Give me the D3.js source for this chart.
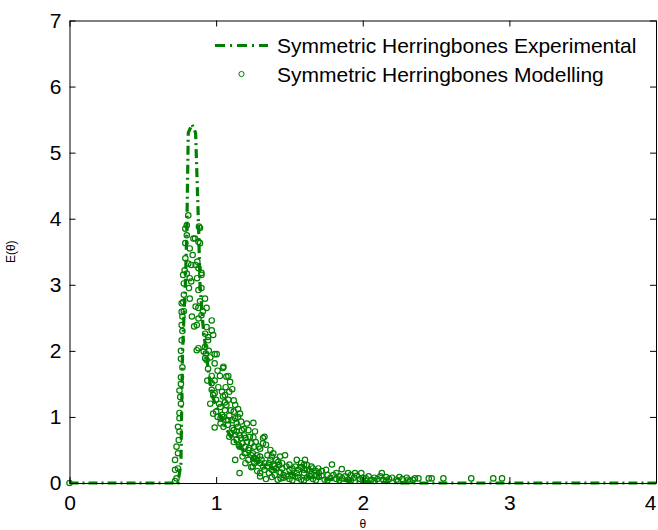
<!DOCTYPE html>
<html>
<head>
<meta charset="utf-8">
<script src="https://cdn.jsdelivr.net/npm/d3@7"></script>
<style>
  body { margin: 0; background: #fff; }
  svg { font-family: "Liberation Sans", Arial, sans-serif; }
</style>
</head>
<body>
<svg></svg>
<script>
var width = 658;
var height = 530;

// experimental curve (theta, E)
var expTheta = [0, 0.74, 0.76, 0.77, 0.78, 0.79, 0.80, 0.81, 0.835, 0.86, 0.87, 0.88, 0.89, 0.91, 0.93, 0.95, 0.97, 1.00, 1.05, 1.10, 1.20, 1.30, 1.40, 1.55, 1.75, 2.00, 2.30, 4.00];
var expE     = [0, 0, 0.3, 1.9, 2.5, 3.0, 3.8, 5.3, 5.43, 5.3, 4.6, 3.9, 3.0, 2.4, 2.0, 1.65, 1.35, 1.15, 0.9, 0.7, 0.45, 0.3, 0.2, 0.12, 0.06, 0.02, 0, 0];

// modelling points [theta, E]
var modelPoints = [
  [0, 0],
  [0.72,0.03],[0.73,0.07],[0.72,0.2],[0.74,0.22],[0.72,0.35],[0.73,0.55],[0.75,0.78],[0.74,0.85],[0.75,0.98],[0.75,1.06],
  [0.76,1.2],[0.75,1.4],[0.76,1.6],[0.76,1.88],[0.77,1.75],[0.765,2.16],[0.765,2.39],[0.765,2.59],[0.77,2.52],[0.765,2.72],
  [0.775,2.74],[0.78,3.02],[0.775,3.15],[0.785,3.22],[0.79,3.63],[0.79,3.85],[0.80,3.75],[0.81,4.05],[0.80,3.9],
  [0.74,0.45],[0.745,0.65],[0.755,1.3],[0.76,1.5],[0.76,2.0],[0.77,2.3],[0.78,2.6],[0.78,2.85],[0.79,3.4],
  [0.81,3.32],[0.80,3.17],[0.82,3.1],[0.815,2.95],[0.82,2.79],[0.83,3.3],[0.835,2.52],[0.845,3.7],[0.856,3.7],[0.872,3.35],
  [0.879,3.65],[0.883,3.88],[0.89,3.86],[0.89,3.63],[0.88,3.25],[0.9,3.18],[0.9,3.15],[0.86,3.3],[0.85,2.37],[0.86,2.67],
  [0.868,2.39],[0.879,2.65],[0.879,2.92],[0.9,2.95],[0.9,2.54],[0.88,2.49],[0.868,2.01],[0.879,2.04],[0.83,3.05],
  [0.82,3.55],[0.84,3.45],[0.87,3.1],[0.89,2.75],[0.91,2.6],
  [0.924,2.79],[0.935,2.65],[0.935,2.36],[0.97,2.46],[0.97,2.31],[0.98,2.24],[0.945,2.21],[0.925,2.26],[0.945,2.16],[0.925,2.06],
  [0.915,1.99],[0.925,1.89],[0.93,1.96],[0.99,1.95],[1.004,1.95],[0.935,1.86],[0.99,1.81],[1.047,1.74],[1.05,1.76],[0.945,1.73],
  [0.97,1.62],[1.026,1.62],[1.083,1.62],[1.07,1.61],[1.095,1.53],[0.97,1.51],[0.97,1.41],[0.99,1.36],[0.98,1.33],[1.06,1.33],
  [1.047,1.31],[1.0,1.26],[1.083,1.26],[1.13,1.18],[1.03,1.15],[1.07,1.18],[1.06,1.1],[1.1,1.1],[1.04,1.03],[1.15,1.0],
  [1.163,1.05],[1.12,1.08],[1.083,0.95],[1.03,0.98],[0.99,0.84],[1.05,0.85],[1.11,0.83],[1.175,0.8],[1.15,0.85],[1.13,0.73],
  [1.16,0.55],[1.13,0.35],[1.16,0.15],[1.00,1.08],[1.02,1.2],[1.09,1.38],[1.015,1.45],[1.065,1.45],[1.11,1.42],
  [0.96,1.2],[0.98,1.05],[1.01,1.0],[1.03,0.9],[1.05,1.0],[1.07,0.95],[1.09,1.02],[1.11,0.95],[1.13,0.98],[1.08,0.88],
  [1.1,0.75],[1.12,0.8],[1.14,0.78],[1.17,0.68],[1.19,0.72],[1.21,0.62],[1.18,0.6],[1.22,0.5],[1.06,1.22],[1.04,1.38],
  [0.99,1.55],[1.01,1.7],[0.96,1.9],[0.95,2.0],[0.94,1.55],[1.12,1.25],[1.15,1.12],[1.09,0.7],[1.14,0.66],
  [1.21,0.9],[1.254,0.91],[1.14,0.9],[1.17,0.93],[1.19,0.82],[1.22,0.8],[1.265,0.78],[1.23,0.7],[1.254,0.69],[1.32,0.68],
  [1.33,0.7],[1.12,0.62],[1.155,0.57],[1.2,0.55],[1.225,0.53],[1.26,0.55],[1.3,0.52],[1.32,0.6],[1.37,0.5],[1.195,0.45],
  [1.25,0.45],[1.28,0.42],[1.254,0.37],[1.3,0.4],[1.38,0.4],[1.436,0.4],[1.47,0.42],[1.39,0.45],[1.3,0.3],[1.36,0.3],
  [1.424,0.32],[1.4,0.26],[1.33,0.2],[1.38,0.2],[1.45,0.22],[1.5,0.2],[1.55,0.35],[1.606,0.35],[1.58,0.3],[1.62,0.27],
  [1.65,0.25],[1.697,0.22],[1.46,0.12],[1.55,0.15],[1.6,0.15],[1.65,0.13],[1.7,0.15],[1.75,0.2],[1.79,0.28],[1.857,0.21],
  [1.82,0.15],[1.9,0.15],[1.947,0.15],[1.99,0.15],[2.13,0.15],[1.29,0.55],[1.35,0.42],[1.34,0.58],[1.41,0.35],[1.27,0.62],
  [1.2,0.68],[1.16,0.72],[1.24,0.6],
  [1.24,0.42],[1.26,0.38],[1.28,0.33],[1.31,0.35],[1.33,0.3],[1.35,0.25],[1.37,0.35],[1.39,0.28],[1.41,0.22],[1.43,0.27],
  [1.45,0.3],[1.48,0.25],[1.5,0.28],[1.52,0.22],[1.54,0.25],[1.56,0.2],[1.58,0.24],[1.6,0.28],[1.62,0.2],[1.64,0.18],
  [1.66,0.22],[1.68,0.12],[1.72,0.18],[1.76,0.12],[1.84,0.1],[1.92,0.12],[1.26,0.3],[1.22,0.35],[1.18,0.4],[1.25,0.25],
  [1.30,0.1],[1.34,0.06],[1.38,0.09],[1.42,0.05],[1.46,0.08],[1.50,0.06],[1.54,0.1],[1.58,0.05],[1.62,0.08],[1.66,0.06],
  [1.70,0.09],[1.74,0.05],[1.78,0.08],[1.82,0.06],[1.86,0.07],[1.90,0.05],[1.94,0.08],[1.98,0.06],[2.02,0.07],[2.06,0.05],
  [2.10,0.06],[2.14,0.05],[2.18,0.06],[2.23,0.05],[2.27,0.06],[2.31,0.05],[2.356,0.07],[2.38,0.07],[2.45,0.07],[2.47,0.07],
  [2.55,0.07],[2.74,0.07],[2.89,0.07],[2.95,0.07],
  [1.36,0.15],[1.44,0.16],[1.52,0.12],[1.6,0.2],[1.68,0.18],[1.72,0.11],[1.8,0.12],[1.88,0.1],[1.96,0.11],[2.04,0.1],
  [2.16,0.09],[1.32,0.25],[1.28,0.18],[1.24,0.24],[1.2,0.3],
  [2.0,0.08],[2.08,0.08],[2.12,0.1],[2.2,0.08],[2.25,0.09],[2.3,0.08],[2.34,0.05],[1.3,0.15],[1.4,0.12],[1.48,0.1],
  [1.56,0.08],[1.64,0.1],[1.44,0.07],[1.52,0.04],[1.6,0.04],[1.68,0.04],[1.76,0.04],[1.84,0.04],[1.92,0.04],[2.0,0.04],
  [2.08,0.03],[2.16,0.03],[2.24,0.03],[2.32,0.03]
];

var xTicks = [0, 1, 2, 3, 4];
var yTicks = [0, 1, 2, 3, 4, 5, 6, 7];
var legendLabels = ['Symmetric Herringbones Experimental', 'Symmetric Herringbones Modelling'];

var margin = {left: 69.5, top: 20.5, right: 2, bottom: 47};
var x = d3.scaleLinear().domain([0, 4]).range([margin.left, width - margin.right]);
var y = d3.scaleLinear().domain([0, 7]).range([height - margin.bottom, margin.top]);

var svg = d3.select('svg')
  .attr('width', width)
  .attr('height', height);

var green = '#008000';

// experimental line
var expData = expTheta.map(function(t, i) { return [t, expE[i]]; });
svg.append('path')
  .datum(expData)
  .attr('fill', 'none')
  .attr('stroke', green)
  .attr('stroke-width', 3.2)
  .attr('stroke-dasharray', '9,4,2,4')
  .attr('d', d3.line().x(d => x(d[0])).y(d => y(d[1])));

// modelling circles
svg.append('g')
  .selectAll('circle')
  .data(modelPoints)
  .enter().append('circle')
    .attr('cx', d => x(d[0]))
    .attr('cy', d => y(d[1]))
    .attr('r', 2.7)
    .attr('fill', 'none')
    .attr('stroke', green)
    .attr('stroke-width', 1.2);

// axes with inward ticks on all sides
var tickLen = 6;
var fmt = d3.format('d');
var bottomAxis = svg.append('g')
  .attr('transform', 'translate(0,' + y(0) + ')')
  .call(d3.axisBottom(x).tickValues(xTicks).tickFormat(fmt).tickSizeInner(-tickLen).tickSizeOuter(0).tickPadding(12));
var leftAxis = svg.append('g')
  .attr('transform', 'translate(' + x(0) + ',0)')
  .call(d3.axisLeft(y).tickValues(yTicks).tickFormat(fmt).tickSizeInner(-tickLen).tickSizeOuter(0).tickPadding(8));
var topAxis = svg.append('g')
  .attr('transform', 'translate(0,' + y(7) + ')')
  .call(d3.axisTop(x).tickValues(xTicks).tickSizeInner(-tickLen).tickSizeOuter(0).tickFormat(''));
var rightAxis = svg.append('g')
  .attr('transform', 'translate(' + x(4) + ',0)')
  .call(d3.axisRight(y).tickValues(yTicks).tickSizeInner(-tickLen).tickSizeOuter(0).tickFormat(''));

svg.selectAll('.domain, .tick line').attr('stroke', '#000').attr('stroke-width', 1);
svg.selectAll('.tick text').attr('font-size', 21).attr('fill', '#000').attr('font-family', '"Liberation Sans", Arial, sans-serif');
// last x label sits at the window edge
bottomAxis.selectAll('.tick text').filter(d => d === 4).attr('text-anchor', 'end').attr('dx', 0);

// axis titles
svg.append('text')
  .attr('x', x(2))
  .attr('y', 528)
  .attr('text-anchor', 'middle')
  .attr('font-size', 12)
  .text('θ');
svg.append('text')
  .attr('transform', 'translate(15,' + y(3.5) + ') rotate(-90)')
  .attr('text-anchor', 'middle')
  .attr('font-size', 12)
  .text('E(θ)');

// legend
var legend = svg.append('g');
legend.append('line')
  .attr('x1', 215).attr('x2', 268)
  .attr('y1', 45.5).attr('y2', 45.5)
  .attr('stroke', green)
  .attr('stroke-width', 3)
  .attr('stroke-dasharray', '10,5,2,5');
legend.append('circle')
  .attr('cx', 241.5).attr('cy', 74)
  .attr('r', 2.6)
  .attr('fill', 'none')
  .attr('stroke', green);
legend.selectAll('text.lab')
  .data(legendLabels)
  .enter().append('text')
    .attr('class', 'lab')
    .attr('x', 277)
    .attr('y', (d, i) => 53 + i * 29)
    .attr('font-size', 21)
    .text(d => d);
</script>
</body>
</html>
